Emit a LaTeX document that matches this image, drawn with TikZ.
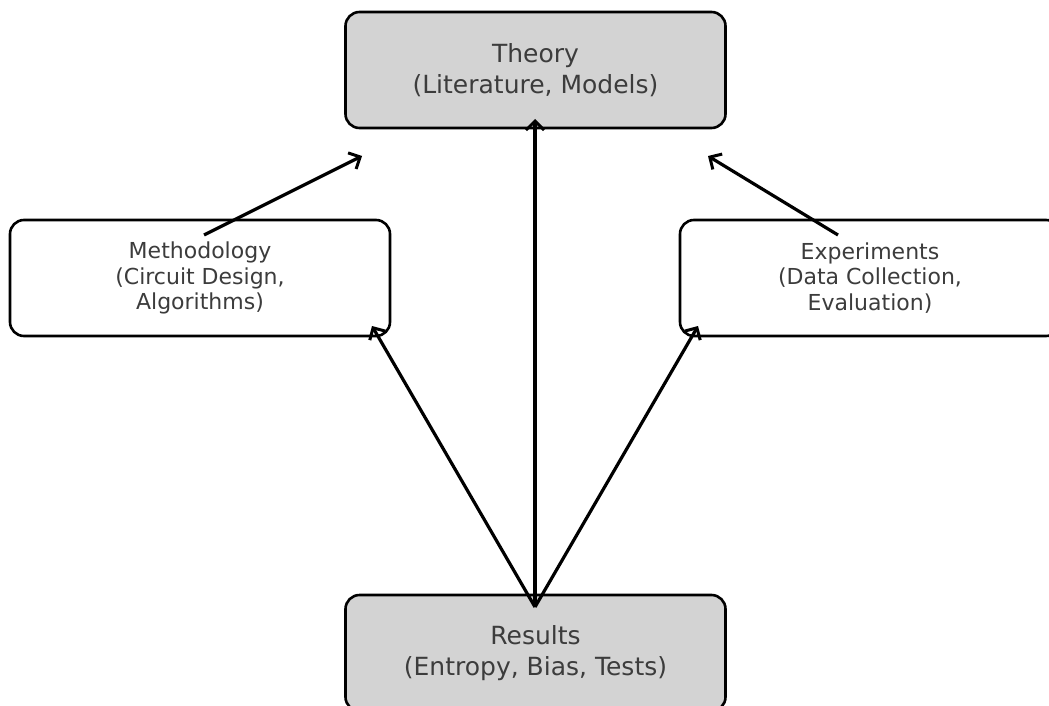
\documentclass[tikz,border=0pt]{standalone}
\usepackage{fontspec}
\setmainfont{DejaVu Sans}
\usetikzlibrary{arrows.meta}
\definecolor{boxgray}{HTML}{D3D3D3}
\definecolor{txtgray}{HTML}{3C3C3C}
\tikzset{
  bigbox/.style={draw=black, line width=2.6pt, fill=boxgray, rounded corners=14pt,
    minimum width=380pt, minimum height=116pt, align=center, text=txtgray,
    font=\fontsize{25}{31}\selectfont, inner sep=0pt},
  sidebox/.style={draw=black, line width=2.6pt, fill=white, rounded corners=14pt,
    minimum width=380pt, minimum height=116pt, align=center, text=txtgray,
    font=\fontsize{22}{25.5}\selectfont, inner sep=0pt},
  conn/.style={draw=black, line width=3.2pt, -{Straight Barb[length=9pt,width=18pt,line width=3pt]}}
}
\begin{document}
\begin{tikzpicture}[x=1pt,y=-1pt]
\useasboundingbox (0,0) rectangle (1049,706);
\node[bigbox] (theory) at (535.5,70) {Theory\\(Literature, Models)};
\node[sidebox] (method) at (200,278) {Methodology\\(Circuit Design,\\Algorithms)};
\node[sidebox] (exper) at (870,278) {Experiments\\(Data Collection,\\Evaluation)};
\node[bigbox] (results) at (535.5,653) {Results\\(Entropy, Bias, Tests)};
\coordinate (src) at (535,607);
\coordinate (mstart) at (204,235);
\coordinate (mend) at (362,156);
\coordinate (estart) at (838,235);
\coordinate (eend) at (708,156);
\coordinate (tin) at (535,119);
\coordinate (min) at (372,326);
\coordinate (ein) at (698,326);
\draw[conn] (mstart) -- (mend);
\draw[conn] (estart) -- (eend);
\draw[conn] (src) -- (tin);
\draw[conn] (src) -- (min);
\draw[conn] (src) -- (ein);
\end{tikzpicture}
\end{document}
